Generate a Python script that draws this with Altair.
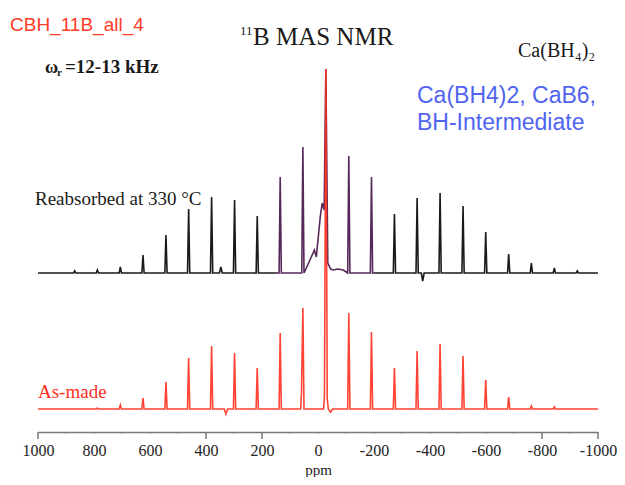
import altair as alt
import pandas as pd

# ---------------- data ----------------
# spinning-sideband positions (ppm), shared by both spectra
PEAK_PPM = [869, 788, 706, 625, 543, 462, 380, 298, 217, 135, 54, -28,
            -110, -191, -273, -354, -436, -518, -599, -681, -762, -844, -926]
# peak heights (arbitrary units) of the reabsorbed sample (black trace)
BLACK_H = [2, 3, 6, 18, 38, 64, 76, 73, 57, 96, 126, 204,
           117, 96, 59, 75, 80, 67, 41, 19, 10, 5, 2]
# peak heights of the as-made sample (red trace)
RED_H = [0, 1, 4, 11, 27, 51, 63, 56, 41, 76, 101, 340,
         96, 77, 41, 58, 65, 53, 29, 12, 3, 2, 0]

# extra features of the black trace (broad intermediate hump, small glitches)
BLACK_EXTRA_PPM = [352, 347, 342, 40, 24, 13, 6, -1, -8, -15, -22, -35, -45, -55,
                   -70, -90, -369, -374, -379]
BLACK_EXTRA_H = [0, 6, 0, 6, 16, 23, 16, 36, 56, 70, 63, 10, 4, 3,
                 4, 3, 0, -8, 0]

# extra features of the red trace (shoulders, small dips)
RED_EXTRA_PPM = [335, 329, 323, 62, 59, -20, -23, -33, -37, -45, -52]
RED_EXTRA_H = [0, -5, 0, 0, 16, 0, 12, 10, 0, -3, 0]

# axis ticks
TICK_LABELS = [1000, 800, 600, 400, 200, 0, -200, -400, -600, -800, -1000]
MAJOR_TICKS = [1000, 400, 200, -800, -1000]
MINOR_TICKS = [900, 800, 700, 600, 500, 300, 100, 0, -100, -200, -300,
               -400, -500, -600, -700, -900]

# ---------------- styling constants ----------------
HW = 4              # half width of a sideband at its base (ppm)
RED_OFFSET = 23     # vertical offset of the as-made trace
BLACK_OFFSET = 159  # vertical offset of the reabsorbed trace
PLOT_W, PLOT_H = 560, 424
SERIF = "Liberation Serif"
SANS = "Liberation Sans"
RED = "#ff2f1e"
BLUE = "#5064f0"


def build(peaks, heights, ex_ppm, ex_h):
    pts = []
    for p, h in zip(peaks, heights):
        pts.append((p, h))
        if not any(p < e <= p + 2 * HW for e in ex_ppm):
            pts.append((p + HW, 0))
        if not any(p - 2 * HW <= e < p for e in ex_ppm):
            pts.append((p - HW, 0))
    pts += list(zip(ex_ppm, ex_h))
    pts += [(1000, 0), (-1000, 0)]
    pts.sort(key=lambda t: -t[0])
    return pts


black_pts = build(PEAK_PPM, BLACK_H, BLACK_EXTRA_PPM, BLACK_EXTRA_H)
red_pts = build(PEAK_PPM, RED_H, RED_EXTRA_PPM, RED_EXTRA_H)

rows = []
for p, h in black_pts + [(150, 0), (-200, 0)]:
    if p >= 150:
        rows.append({"ppm": p, "y": h + BLACK_OFFSET, "seg": "a"})
    if -200 <= p <= 150:
        rows.append({"ppm": p, "y": h + BLACK_OFFSET, "seg": "b"})
    if p <= -200:
        rows.append({"ppm": p, "y": h + BLACK_OFFSET, "seg": "c"})
black_df = pd.DataFrame(rows)
red_df = pd.DataFrame([{"ppm": p, "y": h + RED_OFFSET} for p, h in red_pts])

xscale = alt.Scale(domain=[-1000, 1000], reverse=True, nice=False, zero=False)
yscale = alt.Scale(domain=[0, PLOT_H], nice=False, zero=False)

xaxis = alt.Axis(values=TICK_LABELS, ticks=False, grid=False, domain=True,
                 domainColor="#777777", domainWidth=1.5,
                 labelExpr="'' + datum.value", labelFont=SERIF, labelFontSize=16,
                 labelColor="#222222", labelPadding=10, labelOverlap=False,
                 labelFlush=False, labelBound=False,
                 title="ppm", titleFont=SERIF, titleFontSize=15,
                 titleFontWeight="normal", titleColor="#222222",
                 titleY=42, titleBaseline="alphabetic")

black = alt.Chart(black_df).mark_line(strokeWidth=1.6, interpolate="linear").encode(
    x=alt.X("ppm:Q", scale=xscale, axis=xaxis),
    y=alt.Y("y:Q", scale=yscale, axis=None),
    detail="seg:N",
    color=alt.Color("seg:N", scale=alt.Scale(domain=["a", "b", "c"],
                                             range=["#1a1a1a", "#55285a", "#1a1a1a"]),
                    legend=None),
    order=alt.Order("ppm:Q", sort="descending"),
)

red = alt.Chart(red_df).mark_line(strokeWidth=1.6, color=RED, opacity=0.9).encode(
    x=alt.X("ppm:Q", scale=xscale),
    y=alt.Y("y:Q", scale=yscale),
    order=alt.Order("ppm:Q", sort="descending"),
)

major = alt.Chart(pd.DataFrame({"t": MAJOR_TICKS})).mark_rule(
    color="#777777", strokeWidth=1.5).encode(
    x=alt.X("t:Q", scale=xscale), y=alt.value(PLOT_H), y2=alt.value(PLOT_H + 7))
minor = alt.Chart(pd.DataFrame({"t": MINOR_TICKS})).mark_rule(
    color="#888888", strokeWidth=1).encode(
    x=alt.X("t:Q", scale=xscale), y=alt.value(PLOT_H), y2=alt.value(PLOT_H + 2))


def txt(text, x, y, size, font=SERIF, color="#1a1a1a", weight="normal", align="left"):
    return alt.Chart(pd.DataFrame({"t": [text]})).mark_text(
        font=font, fontSize=size, color=color, fontWeight=weight, align=align,
        baseline="alphabetic").encode(text="t:N", x=alt.value(x), y=alt.value(y))


texts = [
    txt("CBH_11B_all_4", -28, 23, 19, font=SANS, color="#ff3b26"),
    txt("11", 202, 27, 13),
    txt("B MAS NMR", 215, 37, 25),
    txt("ω", 7, 65, 18, weight="bold"),
    txt("r", 19, 68, 11, weight="bold"),
    txt("=12-13 kHz", 27, 65, 19, weight="bold"),
    txt("Ca(BH₄)₂", 480, 49, 20),
    txt("Ca(BH4)2, CaB6,", 379, 95, 23, font=SANS, color=BLUE),
    txt("BH-Intermediate", 379, 122, 23, font=SANS, color=BLUE),
    txt("Reabsorbed at 330 °C", -3, 197, 19),
    txt("As-made", 0, 390, 19, color=RED),
]

chart = alt.layer(black, red, major, minor, *texts).properties(
    width=PLOT_W, height=PLOT_H,
    autosize=alt.AutoSizeParams(type="none"),
    padding={"left": 30, "top": 0, "right": 19, "bottom": 45},
).configure_view(stroke=None).configure_axis(grid=False)

chart.save("out.html", embed_options={"renderer": "svg", "actions": False})
